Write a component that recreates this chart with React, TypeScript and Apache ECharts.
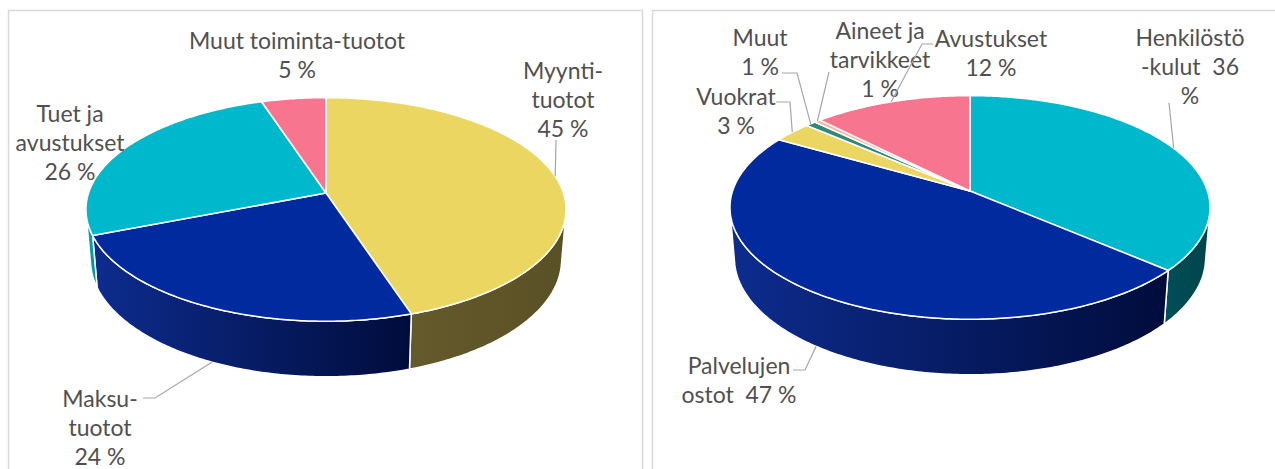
import React, { useEffect, useRef } from 'react';
import * as echarts from 'echarts';

// ---------- data ----------
const incomeCategories = ['Myynti-tuotot', 'Maksu-tuotot', 'Tuet ja avustukset', 'Muut toiminta-tuotot'];
const incomeValues = [45, 24, 26, 5];
const incomeLabels = ['Myynti-\ntuotot\n45 %', 'Maksu-\ntuotot\n24 %', 'Tuet ja\navustukset\n26 %', 'Muut toiminta-tuotot\n5 %'];

const costCategories = ['Henkilöstökulut', 'Palvelujen ostot', 'Vuokrat', 'Muut', 'Aineet ja tarvikkeet', 'Avustukset'];
const costValues = [36.4, 47, 3, 0.8, 0.5, 12.3];
const costLabels = ['Henkilöstö\n-kulut  36\n%', 'Palvelujen\nostot  47 %', 'Vuokrat\n3 %', 'Muut\n1 %', 'Aineet ja\ntarvikkeet\n1 %', 'Avustukset\n12 %'];

// ---------- styles ----------
const incomeColors = ['#ECD662', '#002A9E', '#00B8CC', '#F7758F'];
const incomeWalls = [['#645a2b', '#5a5026'], ['#0d2c8e', '#000c3b'], ['#00a3b6', '#0093a5'], ['#a04c5c', '#8a4050']];
const costColors = ['#00B8CC', '#002A9E', '#ECD662', '#2E8A78', '#F5B7A6', '#F7758F'];
const costWalls = [['#004f57', '#00444b'], ['#0d2c8e', '#000c3b'], ['#675c2c', '#5a5026'], ['#1c5a4e', '#1c5a4e'], ['#9a7468', '#9a7468'], ['#a04c5c', '#8a4050']];

// label layout: first-line centre, leader start points, leader end on top edge (false) or wall bottom (true)
const incomeLabelLayout = [
  { x: 563, y: 70, lead: [[556, 140]], bottom: false },
  { x: 100, y: 398, lead: [[143, 398], [155, 398]], bottom: true },
  { x: 70, y: 113, lead: [], bottom: false },
  { x: 297, y: 40, lead: [], bottom: false },
];
const costLabelLayout = [
  { x: 1190, y: 37, lead: [[1169, 103]], bottom: false },
  { x: 739, y: 365, lead: [[793, 370], [805, 370]], bottom: true },
  { x: 736, y: 96, lead: [[776, 102], [790, 102]], bottom: false },
  { x: 760, y: 37, lead: [[782, 73], [797, 73]], bottom: false },
  { x: 880, y: 30, lead: [[829, 72]], bottom: false },
  { x: 991, y: 38, lead: [[933, 44], [922, 44]], bottom: false },
];

// ---------- geometry (perspective 3D pie) ----------
const G = { s: 0.4607, c: 0.8876, D: 6.04, F: 1434, T: 0.241 };
const LINE_H = 29.2;

function proj(cx: number, cy: number, deg: number, r: number, t: number): number[] {
  const th = (deg * Math.PI) / 180;
  const x = Math.sin(th) * r;
  const v = -Math.cos(th) * r;
  const Yc = v * G.s - t * G.c;
  const Zc = G.D - v * G.c - t * G.s;
  return [cx + (G.F * x) / Zc, cy + (G.F * Yc) / Zc];
}

const VIS_LO = (Math.acos(-1 / (G.D * G.c)) * 180) / Math.PI;
const VIS_HI = 360 - VIS_LO;

function arc(cx: number, cy: number, a1: number, a2: number, t: number): number[][] {
  const n = Math.max(2, Math.ceil((a2 - a1) / 0.75) + 1);
  const pts: number[][] = [];
  for (let i = 0; i < n; i++) {
    const a = a1 + ((a2 - a1) * i) / (n - 1);
    pts.push(proj(cx, cy, a, 1, t));
  }
  return pts;
}

function slicesOf(values: number[]): number[][] {
  const total = values.reduce((a, b) => a + b, 0);
  let acc = 0;
  return values.map((v, i) => {
    const s = acc / total;
    acc += v;
    return [s, acc / total, i];
  });
}

function buildSeries(values: number[], names: string[], labels: string[], colors: string[], walls: string[][], layout: any[], cx: number, cy: number) {
  const data = slicesOf(values).map((d, i) => ({ name: names[i], value: d }));
  const wallSeries = {
    type: 'custom',
    coordinateSystem: 'none',
    silent: true,
    z: 1,
    data,
    renderItem: (params: any, api: any) => {
      const i = api.value(2);
      const a1 = Math.max(api.value(0) * 360, VIS_LO);
      const a2 = Math.min(api.value(1) * 360, VIS_HI);
      if (a2 <= a1) return { type: 'group', children: [] };
      const top = arc(cx, cy, a1, a2, 0);
      const bot = arc(cx, cy, a1, a2, -G.T).reverse();
      return {
        type: 'polygon',
        shape: { points: top.concat(bot) },
        style: {
          fill: new echarts.graphic.LinearGradient(0, 0, 1, 0, [
            { offset: 0, color: walls[i][0] },
            { offset: 1, color: walls[i][1] },
          ]),
          stroke: '#ffffff',
          lineWidth: 1.5,
          lineJoin: 'round',
        },
      };
    },
  };
  const topSeries = {
    type: 'custom',
    coordinateSystem: 'none',
    silent: true,
    z: 2,
    data,
    renderItem: (params: any, api: any) => {
      const i = api.value(2);
      const a1 = api.value(0) * 360;
      const a2 = api.value(1) * 360;
      const pts = [[cx, cy]].concat(arc(cx, cy, a1, a2, 0));
      return {
        type: 'polygon',
        shape: { points: pts },
        style: { fill: colors[i], stroke: '#ffffff', lineWidth: 1.5, lineJoin: 'round' },
      };
    },
  };
  const labelSeries = {
    type: 'custom',
    coordinateSystem: 'none',
    silent: true,
    z: 3,
    data,
    renderItem: (params: any, api: any) => {
      const i = api.value(2);
      const mid = ((api.value(0) + api.value(1)) / 2) * 360;
      const L = layout[i];
      const children: any[] = labels[i].split('\n').map((line: string, k: number) => ({
        type: 'text',
        x: L.x,
        y: L.y + k * LINE_H,
        style: {
          text: line,
          fill: '#505050',
          fontSize: 23,
          fontFamily: 'Lato',
          align: 'center',
          verticalAlign: 'middle',
          lineHeight: 23,
        },
      }));
      if (L.lead.length) {
        const end = proj(cx, cy, mid, 1, L.bottom ? -G.T : 0);
        children.push({
          type: 'polyline',
          shape: { points: L.lead.concat([end]) },
          style: { stroke: '#a6a6a6', lineWidth: 1.2, fill: 'none' },
        });
      }
      return { type: 'group', children };
    },
  };
  return [wallSeries, topSeries, labelSeries];
}

export default function App() {
  const ref = useRef<HTMLDivElement>(null);
  useEffect(() => {
    if (!ref.current) return;
    const chart = echarts.init(ref.current, undefined, { renderer: 'svg' });
    chart.setOption({
      animation: false,
      backgroundColor: '#ffffff',
      graphic: [
        { type: 'rect', shape: { x: 8.5, y: 10.5, width: 634, height: 480 }, style: { fill: 'none', stroke: '#d9d9d9', lineWidth: 1.5 }, z: 0 },
        { type: 'rect', shape: { x: 652.5, y: 10.5, width: 700, height: 480 }, style: { fill: 'none', stroke: '#d9d9d9', lineWidth: 1.5 }, z: 0 },
      ],
      series: [
        ...buildSeries(incomeValues, incomeCategories, incomeLabels, incomeColors, incomeWalls, incomeLabelLayout, 326, 193),
        ...buildSeries(costValues, costCategories, costLabels, costColors, costWalls, costLabelLayout, 970, 191),
      ],
    });
    return () => chart.dispose();
  }, []);
  return <div ref={ref} style={{ position: 'absolute', left: 0, top: 0, width: 1275, height: 469 }} />;
}
